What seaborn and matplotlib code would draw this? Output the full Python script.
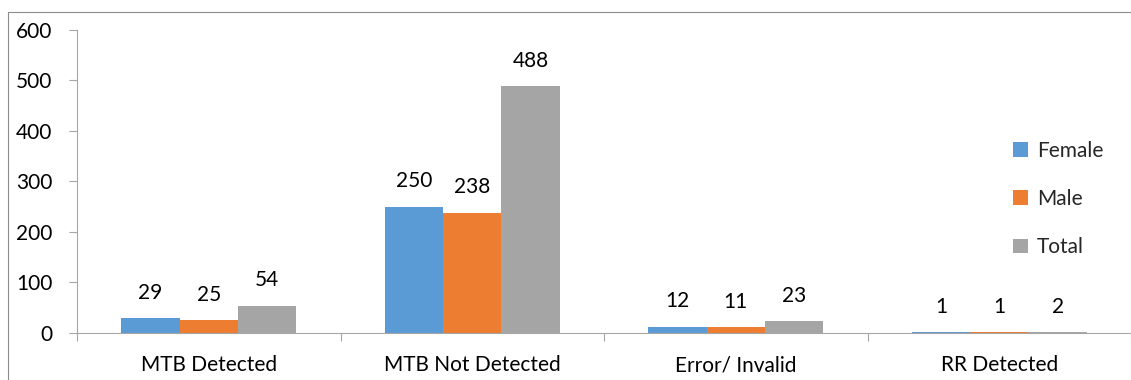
import pandas as pd
import seaborn as sns
import matplotlib.pyplot as plt
from matplotlib.patches import Rectangle
from matplotlib.ticker import FixedLocator

categories = ['MTB Detected', 'MTB Not Detected', 'Error/ Invalid', 'RR Detected']
series = ['Female', 'Male', 'Total']
female = [29, 250, 12, 1]
male = [25, 238, 11, 1]
total = [54, 488, 23, 2]
colors = ['#5B9BD5', '#ED7D31', '#A5A5A5']
y_ticks = [0, 100, 200, 300, 400, 500, 600]


def build_df():
    rows = []
    for name, values in zip(series, [female, male, total]):
        for cat, v in zip(categories, values):
            rows.append({'category': cat, 'sex': name, 'count': v})
    return pd.DataFrame.from_records(rows)


def main():
    df = build_df()
    sns.set_theme(style='white')
    plt.rcParams['font.family'] = ['Lato', 'DejaVu Sans']
    fs = 15
    axis_gray = '#A6A6A6'

    fig = plt.figure(figsize=(11.31, 3.8), dpi=100)
    ax = fig.add_axes([77 / 1131, 1 - 333 / 380, 1 - 77 / 1131, (333 - 29.5) / 380])

    sns.barplot(data=df, x='category', y='count', hue='sex', order=categories,
                hue_order=series, palette=colors, width=0.665, errorbar=None,
                saturation=1, linewidth=0, ax=ax)

    # value labels sit a fixed distance above each bar
    for container in ax.containers:
        for bar in container:
            h = bar.get_height()
            ax.annotate(f'{int(h)}', (bar.get_x() + bar.get_width() / 2, h),
                        xytext=(0, 14), textcoords='offset points',
                        ha='center', va='baseline', fontsize=fs, color='black')

    ax.set_ylim(0, 600)
    ax.set_yticks(y_ticks)
    ax.set_xlim(-0.5, len(categories) - 0.5)
    ax.xaxis.set_minor_locator(FixedLocator([i - 0.5 for i in range(len(categories) + 1)]))
    ax.set_xlabel('')
    ax.set_ylabel('')

    for side in ['top', 'right']:
        ax.spines[side].set_visible(False)
    for side in ['left', 'bottom']:
        ax.spines[side].set_color(axis_gray)
        ax.spines[side].set_linewidth(0.8)

    ax.tick_params(axis='x', which='major', length=0, pad=16, labelsize=fs, labelcolor='black')
    ax.tick_params(axis='x', which='minor', bottom=True, length=5.5, width=0.8, color=axis_gray)
    ax.tick_params(axis='y', left=True, length=5.8, width=0.8, color=axis_gray,
                   pad=12, labelsize=fs, labelcolor='black')

    handles, labels = ax.get_legend_handles_labels()
    ax.legend(handles, labels, loc='center left', bbox_to_anchor=(1012.7 / 1131, 1 - 199 / 380),
              bbox_transform=fig.transFigure, frameon=False, fontsize=fs,
              handlelength=0.75, handleheight=0.7, handletextpad=0.4,
              labelspacing=1.35, borderpad=0, borderaxespad=0)

    # outer chart frame
    fig.patches.append(Rectangle((8 / 1131, -0.5), 2, 0.5 + (380 - 12) / 380,
                                 transform=fig.transFigure, fill=False,
                                 edgecolor='#8C8C8C', linewidth=0.8))

    fig.savefig('out.png', dpi=100)


if __name__ == '__main__':
    main()
